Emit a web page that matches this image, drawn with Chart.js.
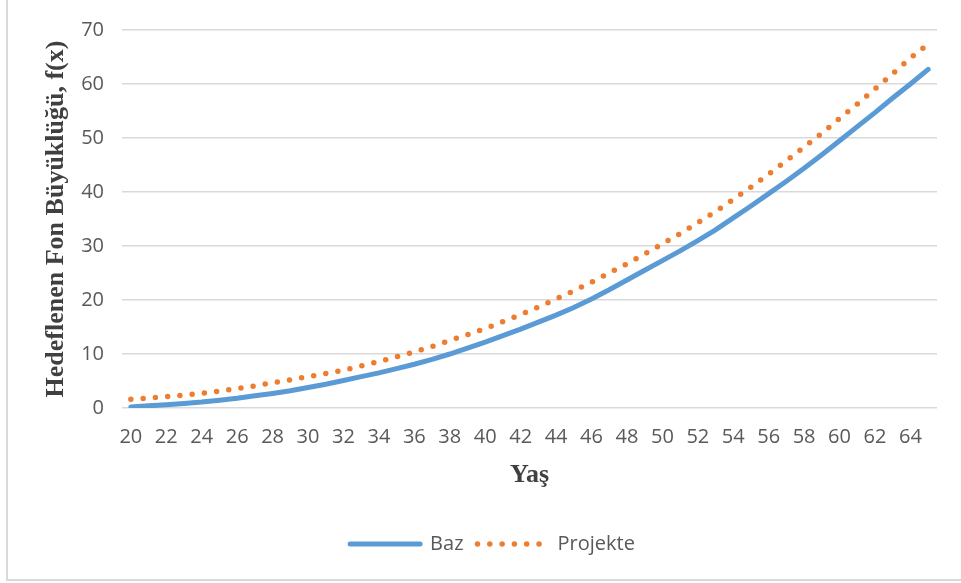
<!DOCTYPE html>
<html>
<head>
<meta charset="utf-8">
<script src="https://cdn.jsdelivr.net/npm/chart.js@4.4.0/dist/chart.umd.min.js"></script>
<style>
  html, body { margin: 0; padding: 0; background: #fff; overflow: hidden; }
  #wrap { position: relative; width: 961px; height: 583px; }
  #frame { position: absolute; left: 6px; top: -2px; width: 970px; height: 583px;
           box-sizing: border-box; border: 2px solid #d9d9d9; }
  #chart { position: absolute; left: 0; top: 0; }
</style>
</head>
<body>
<div id="wrap">
  <div id="frame"></div>
  <canvas id="chart" width="961" height="583"></canvas>
</div>
<script>
// Yaş (20..65)
const years = [20, 21, 22, 23, 24, 25, 26, 27, 28, 29, 30, 31, 32, 33, 34, 35, 36, 37, 38, 39,
  40, 41, 42, 43, 44, 45, 46, 47, 48, 49, 50, 51, 52, 53, 54, 55, 56, 57, 58, 59,
  60, 61, 62, 63, 64, 65];

// Baz senaryosu
const baz = [0.2, 0.4, 0.6, 0.85, 1.1, 1.45, 1.8, 2.25, 2.7, 3.2, 3.8, 4.4, 5.1, 5.8, 6.5, 7.3,
  8.1, 9.0, 10.0, 11.1, 12.2, 13.4, 14.6, 15.9, 17.2, 18.6, 20.2, 21.9, 23.7, 25.5,
  27.3, 29.1, 31.0, 33.0, 35.2, 37.4, 39.7, 42.0, 44.4, 46.9, 49.5, 52.1, 54.7, 57.4,
  60.0, 62.7];

// Projekte senaryosu
const projekte = [1.6, 1.85, 2.1, 2.4, 2.7, 3.1, 3.6, 4.1, 4.7, 5.2, 5.8, 6.4, 7.0, 7.8, 8.6, 9.5,
  10.4, 11.4, 12.5, 13.6, 14.7, 16.0, 17.3, 18.7, 20.2, 21.7, 23.3, 25.0, 26.7, 28.5,
  30.4, 32.3, 34.3, 36.4, 38.6, 40.9, 43.3, 45.8, 48.3, 50.9, 53.6, 56.3, 59.1, 61.9,
  64.8, 67.4];

const yMin = 0, yMax = 70, yStep = 10;

const tickFont = { family: "'Open Sans', sans-serif", size: 20 };
const titleFont = { family: "'Liberation Serif', 'Times New Roman', serif", size: 26, weight: 'bold' };

// nudge the legend a bit to the right, like the original
const legendShift = {
  id: 'legendShift',
  afterLayout(chart) {
    chart.legend.left += 24;
    chart.legend.right += 24;
  }
};

new Chart(document.getElementById('chart'), {
  type: 'line',
  data: {
    labels: years,
    datasets: [
      {
        label: 'Baz',
        data: baz,
        borderColor: '#5b9bd5',
        backgroundColor: '#5b9bd5',
        borderWidth: 5,
        borderCapStyle: 'round',
        pointRadius: 0,
        tension: 0
      },
      {
        label: 'Projekte',
        data: projekte,
        borderColor: '#ed7d31',
        backgroundColor: '#ed7d31',
        borderWidth: 5.5,
        borderDash: [0, 12.3],
        borderCapStyle: 'round',
        pointRadius: 0,
        tension: 0
      }
    ]
  },
  options: {
    responsive: false,
    animation: false,
    layout: { padding: { left: 0, right: 24, top: 29, bottom: 19 } },
    plugins: {
      tooltip: { enabled: false },
      legend: {
        position: 'bottom',
        labels: {
          usePointStyle: true,
          pointStyle: 'line',
          pointStyleWidth: 70,
          padding: 14,
          color: '#595959',
          font: tickFont,
          // legend lines take dash / cap from the datasets
          generateLabels: (chart) => chart.data.datasets.map((ds, i) => ({
            text: ds.label,
            fillStyle: ds.borderColor,
            strokeStyle: ds.borderColor,
            lineWidth: ds.borderWidth,
            lineDash: ds.borderDash || [],
            lineCap: 'round',
            pointStyle: 'line',
            fontColor: '#595959',
            hidden: false,
            datasetIndex: i
          }))
        }
      }
    },
    scales: {
      x: {
        offset: true,
        grid: { display: false, drawTicks: false },
        border: { display: false },
        ticks: {
          autoSkip: false,
          maxRotation: 0,
          padding: 17,
          color: '#595959',
          font: tickFont,
          callback: function (v, i) { return i % 2 === 0 ? this.getLabelForValue(v) : ''; }
        },
        title: {
          display: true,
          text: 'Yaş',
          color: '#404040',
          font: titleFont,
          padding: { top: 0, bottom: 29 }
        },
        afterFit: (s) => { s.height = 112; }
      },
      y: {
        min: yMin,
        max: yMax,
        grid: { color: '#d9d9d9', lineWidth: 1.5, drawTicks: false },
        border: { display: false },
        ticks: {
          stepSize: yStep,
          padding: 18,
          color: '#595959',
          font: tickFont
        },
        title: {
          display: true,
          text: 'Hedeflenen Fon Büyüklüğü, f(x)',
          color: '#404040',
          font: titleFont,
          padding: { top: 41, bottom: 0 }
        },
        afterFit: (s) => { s.width = 122; }
      }
    }
  },
  plugins: [legendShift]
});
</script>
</body>
</html>
